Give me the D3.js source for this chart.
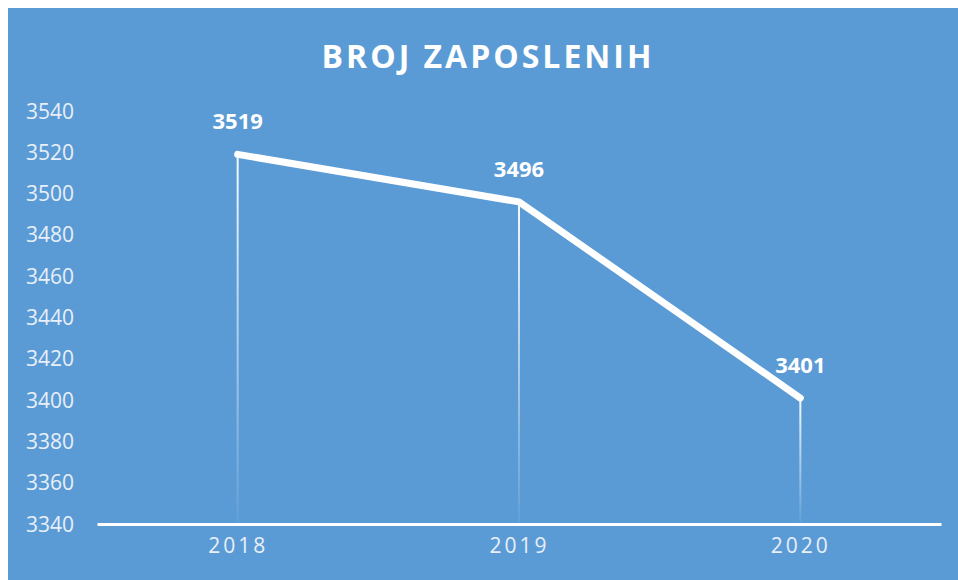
<!DOCTYPE html>
<html>
<head>
<meta charset="utf-8">
<script src="https://cdn.jsdelivr.net/npm/d3@7"></script>
<style>
  body { margin: 0; background: #fff; }
  text { font-family: "Open Sans", sans-serif; }
</style>
</head>
<body>
<div id="chart"></div>
<script>
// Broj zaposlenih po godinama
const years = ["2018", "2019", "2020"];
const employees = [3519, 3496, 3401];
const yTicks = [3340, 3360, 3380, 3400, 3420, 3440, 3460, 3480, 3500, 3520, 3540];

const width = 958, height = 580;

const svg = d3.select("#chart")
  .append("svg")
    .attr("width", width)
    .attr("height", height);

// chart area background
svg.append("rect")
  .attr("x", 8)
  .attr("y", 8)
  .attr("width", 950)
  .attr("height", 572)
  .attr("fill", "#5b9bd5");

// gradient for the drop lines
const grad = svg.append("defs").append("linearGradient")
  .attr("id", "drop")
  .attr("x1", 0).attr("y1", 0)
  .attr("x2", 0).attr("y2", 1);
grad.append("stop").attr("offset", "0%").attr("stop-color", "#fff").attr("stop-opacity", 0.95);
grad.append("stop").attr("offset", "100%").attr("stop-color", "#fff").attr("stop-opacity", 0.05);

svg.append("text")
  .attr("x", 488)
  .attr("y", 68)
  .attr("text-anchor", "middle")
  .style("font-size", "32px")
  .style("font-weight", "bold")
  .style("letter-spacing", "3px")
  .style("fill", "#fff")
  .text("BROJ ZAPOSLENIH");

const x = d3.scalePoint()
  .domain(years)
  .range([97, 941])
  .padding(0.5);

const y = d3.scaleLinear()
  .domain([3340, 3540])
  .range([524, 111]);

// y axis labels (no axis line)
svg.append("g")
  .selectAll("text")
  .data(yTicks)
  .enter()
  .append("text")
    .attr("x", 26)
    .attr("y", d => y(d))
    .attr("dy", "0.36em")
    .style("font-size", "21px")
    .style("fill", "#e8eff8")
    .text(d => d);

// x axis
const xAxis = svg.append("g")
  .attr("transform", `translate(0,${y(3340)})`)
  .call(d3.axisBottom(x).tickSize(0).tickPadding(14));
xAxis.select(".domain")
  .attr("stroke", "#fff")
  .attr("stroke-width", 3);
xAxis.selectAll("text")
  .attr("dy", "0.71em")
  .style("font-family", "Open Sans, sans-serif")
  .style("font-size", "21px")
  .style("letter-spacing", "3px")
  .style("fill", "#e8eff8");

const pts = years.map((yr, i) => ({ year: yr, value: employees[i] }));

// drop lines
svg.selectAll(".drop")
  .data(pts)
  .enter()
  .append("rect")
    .attr("class", "drop")
    .attr("x", d => x(d.year) - 1)
    .attr("y", d => y(d.value))
    .attr("width", 2)
    .attr("height", d => y(3340) - y(d.value) - 2)
    .attr("fill", "url(#drop)");

// line
svg.append("path")
  .datum(pts)
  .attr("fill", "none")
  .attr("stroke", "#fff")
  .attr("stroke-width", 7)
  .attr("stroke-linecap", "round")
  .attr("stroke-linejoin", "round")
  .attr("d", d3.line().x(d => x(d.year)).y(d => y(d.value)));

// data labels
svg.selectAll(".label")
  .data(pts)
  .enter()
  .append("text")
    .attr("class", "label")
    .attr("x", d => x(d.year))
    .attr("y", d => y(d.value) - 25)
    .attr("text-anchor", "middle")
    .style("font-size", "22px")
    .style("font-weight", "bold")
    .style("fill", "#fff")
    .text(d => d.value);
</script>
</body>
</html>
